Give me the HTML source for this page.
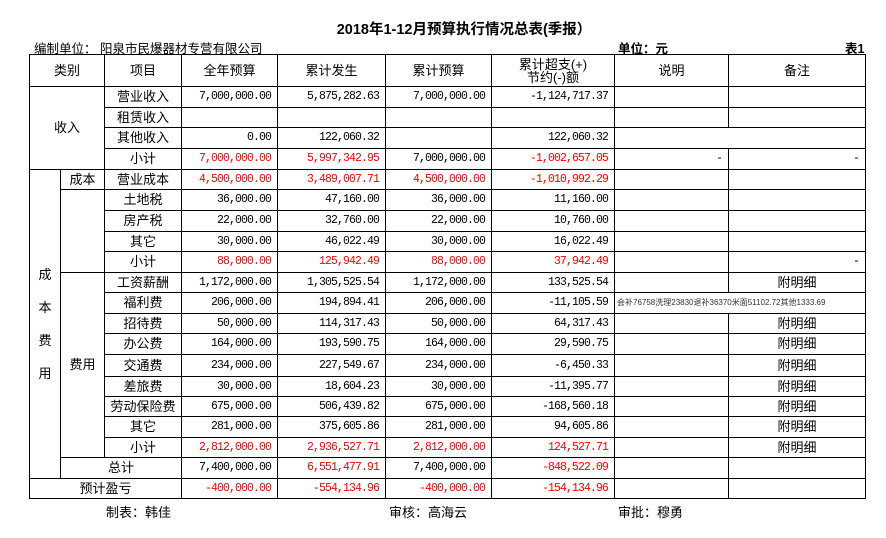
<!DOCTYPE html>
<html><head><meta charset="utf-8"><style>
body{margin:0;width:886px;height:538px;background:#fff;position:relative;overflow:hidden;font-family:"Liberation Sans","Noto Sans CJK SC",sans-serif;color:#000}
.t{position:absolute;white-space:nowrap}
table{position:absolute;left:29px;top:54px;border-collapse:collapse;table-layout:fixed;font-size:13px}
td{border:1px solid #000;padding:0;text-align:center;overflow:hidden;white-space:nowrap;line-height:14px}
td.n{text-align:right;padding-right:6px;font-family:"Liberation Mono",monospace;font-size:11.5px;letter-spacing:-0.9px}
.r{color:#f00}
.v{line-height:33px}
</style></head><body>
<div class="t" style="left:21px;width:886px;text-align:center;top:18px;font-weight:bold;font-size:14.5px">2018年1-12月预算执行情况总表(季报）</div>
<div class="t" style="left:34px;top:38px;font-size:12.5px">编制单位：&nbsp;阳泉市民爆器材专营有限公司</div>
<div class="t" style="left:618px;top:38px;font-size:12.5px;font-weight:bold">单位：元</div>
<div class="t" style="left:845px;top:38px;font-size:12.5px;font-weight:bold">表1</div>
<table>
<colgroup><col style="width:31px"><col style="width:44px"><col style="width:77px"><col style="width:96px"><col style="width:108px"><col style="width:106px"><col style="width:123px"><col style="width:114px"><col style="width:137px"></colgroup>
<tr style="height:32px"><td colspan="2">类别</td><td>项目</td><td>全年预算</td><td>累计发生</td><td>累计预算</td><td style="line-height:13px">累计超支(+)<br>节约(-)额</td><td>说明</td><td>备注</td></tr>
<tr style="height:21px"><td colspan="2" rowspan="4">收入</td><td>营业收入</td><td class="n">7,000,000.00</td><td class="n">5,875,282.63</td><td class="n">7,000,000.00</td><td class="n">-1,124,717.37</td><td></td><td></td></tr>
<tr style="height:20px"><td>租赁收入</td><td></td><td class="n"></td><td></td><td></td><td></td><td></td></tr>
<tr style="height:21px"><td>其他收入</td><td class="n">0.00</td><td class="n">122,060.32</td><td></td><td class="n">122,060.32</td><td colspan="2"></td></tr>
<tr style="height:21px"><td>小计</td><td class="n r">7,000,000.00</td><td class="n r">5,997,342.95</td><td class="n">7,000,000.00</td><td class="n r">-1,002,657.05</td><td class="n">-</td><td class="n">-</td></tr>
<tr style="height:20px"><td rowspan="15" class="v">成<br>本<br>费<br>用</td><td>成本</td><td>营业成本</td><td class="n r">4,500,000.00</td><td class="n r">3,489,007.71</td><td class="n r">4,500,000.00</td><td class="n r">-1,010,992.29</td><td></td><td></td></tr>
<tr style="height:21px"><td rowspan="4"></td><td>土地税</td><td class="n">36,000.00</td><td class="n">47,160.00</td><td class="n">36,000.00</td><td class="n">11,160.00</td><td></td><td></td></tr>
<tr style="height:21px"><td>房产税</td><td class="n">22,000.00</td><td class="n">32,760.00</td><td class="n">22,000.00</td><td class="n">10,760.00</td><td></td><td></td></tr>
<tr style="height:20px"><td>其它</td><td class="n">30,000.00</td><td class="n">46,022.49</td><td class="n">30,000.00</td><td class="n">16,022.49</td><td></td><td></td></tr>
<tr style="height:21px"><td>小计</td><td class="n r">88,000.00</td><td class="n r">125,942.49</td><td class="n r">88,000.00</td><td class="n r">37,942.49</td><td></td><td class="n">-</td></tr>
<tr style="height:20px"><td rowspan="9">费用</td><td>工资薪酬</td><td class="n">1,172,000.00</td><td class="n">1,305,525.54</td><td class="n">1,172,000.00</td><td class="n">133,525.54</td><td></td><td>附明细</td></tr>
<tr style="height:21px"><td>福利费</td><td class="n">206,000.00</td><td class="n">194,894.41</td><td class="n">206,000.00</td><td class="n">-11,105.59</td><td colspan="2" style="text-align:left;font-size:8px;color:#333;padding-left:2px">会补76758洗理23830退补36370米面51102.72其他1333.69</td></tr>
<tr style="height:20px"><td>招待费</td><td class="n">50,000.00</td><td class="n">114,317.43</td><td class="n">50,000.00</td><td class="n">64,317.43</td><td></td><td>附明细</td></tr>
<tr style="height:21px"><td>办公费</td><td class="n">164,000.00</td><td class="n">193,590.75</td><td class="n">164,000.00</td><td class="n">29,590.75</td><td></td><td>附明细</td></tr>
<tr style="height:22px"><td>交通费</td><td class="n">234,000.00</td><td class="n">227,549.67</td><td class="n">234,000.00</td><td class="n">-6,450.33</td><td></td><td>附明细</td></tr>
<tr style="height:20px"><td>差旅费</td><td class="n">30,000.00</td><td class="n">18,604.23</td><td class="n">30,000.00</td><td class="n">-11,395.77</td><td></td><td>附明细</td></tr>
<tr style="height:20px"><td>劳动保险费</td><td class="n">675,000.00</td><td class="n">506,439.82</td><td class="n">675,000.00</td><td class="n">-168,560.18</td><td></td><td>附明细</td></tr>
<tr style="height:21px"><td>其它</td><td class="n">281,000.00</td><td class="n">375,605.86</td><td class="n">281,000.00</td><td class="n">94,605.86</td><td></td><td>附明细</td></tr>
<tr style="height:20px"><td>小计</td><td class="n r">2,812,000.00</td><td class="n r">2,936,527.71</td><td class="n r">2,812,000.00</td><td class="n r">124,527.71</td><td></td><td>附明细</td></tr>
<tr style="height:21px"><td colspan="2">总计</td><td class="n">7,400,000.00</td><td class="n r">6,551,477.91</td><td class="n">7,400,000.00</td><td class="n r">-848,522.09</td><td></td><td></td></tr>
<tr style="height:20px"><td colspan="3">预计盈亏</td><td class="n r">-400,000.00</td><td class="n r">-554,134.96</td><td class="n r">-400,000.00</td><td class="n r">-154,134.96</td><td></td><td></td></tr>
</table>
<div class="t" style="left:106px;top:502px;font-size:13px">制表：韩佳</div>
<div class="t" style="left:389px;top:502px;font-size:13px">审核：高海云</div>
<div class="t" style="left:618px;top:502px;font-size:13px">审批：穆勇</div>
</body></html>
